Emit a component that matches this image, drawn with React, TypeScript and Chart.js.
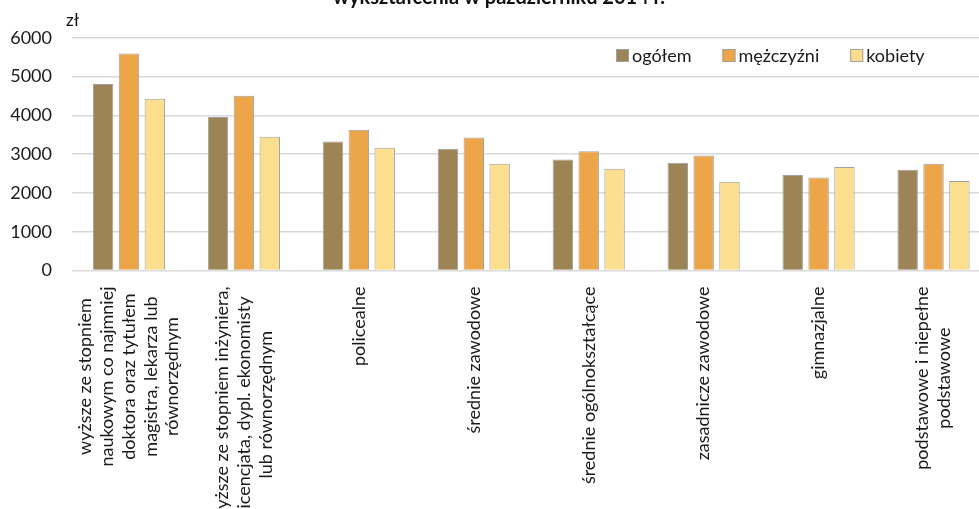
import React, { useEffect, useRef } from "react";
import { Chart, registerables } from "chart.js";

Chart.register(...registerables);

const FONT = "Lato, 'Noto Sans', sans-serif";

const categories: string[][] = [
  ["wyższe ze stopniem", "naukowym co najmniej", "doktora oraz tytułem", "magistra, lekarza lub", "równorzędnym"],
  ["wyższe ze stopniem inżyniera,", "licencjata, dypl. ekonomisty", "lub równorzędnym"],
  ["policealne"],
  ["średnie zawodowe"],
  ["średnie ogólnokształcące"],
  ["zasadnicze zawodowe"],
  ["gimnazjalne"],
  ["podstawowe i niepełne", "podstawowe"],
];

const seriesNames = ["ogółem", "mężczyźni", "kobiety"];
const ogolem = [4806, 3959, 3325, 3137, 2863, 2778, 2460, 2598];
const mezczyzni = [5592, 4506, 3625, 3427, 3076, 2965, 2400, 2752];
const kobiety = [4429, 3445, 3163, 2752, 2624, 2290, 2665, 2305];
const seriesColors = ["#9c8456", "#eca548", "#fcdf8e"];

const yMin = 0;
const yMax = 6000;
const yStep = 1000;

const titleText = "wykształcenia w październiku 2014 r.";
const unitLabel = "zł";

const overlayPlugin = {
  id: "overlay",
  afterDraw(chart: any) {
    const ctx = chart.ctx as CanvasRenderingContext2D;
    const area = chart.chartArea;
    const xs = chart.scales.x;
    ctx.save();

    // title (only the bottom line visible)
    ctx.font = `bold 20px ${FONT}`;
    ctx.fillStyle = "#111";
    ctx.textAlign = "center";
    ctx.textBaseline = "alphabetic";
    ctx.fillText(titleText, 499, 4);

    // unit
    ctx.font = `17px ${FONT}`;
    ctx.textAlign = "left";
    ctx.fillText(unitLabel, 66, 26);

    // x labels
    ctx.font = `18px ${FONT}`;
    ctx.fillStyle = "#1a1a1a";
    ctx.textAlign = "center";
    ctx.textBaseline = "middle";
    const lineH = 21.8;
    const top = area.bottom + 16;
    categories.forEach((lines, i) => {
      const px = xs.getPixelForValue(i);
      const w = Math.max(...lines.map((l) => ctx.measureText(l).width));
      const cy = top + w / 2;
      const n = lines.length;
      ctx.save();
      ctx.translate(px, cy);
      ctx.rotate(-Math.PI / 2);
      lines.forEach((l, j) => ctx.fillText(l, 0, (j - (n - 1) / 2) * lineH));
      ctx.restore();
    });

    // legend
    ctx.font = `18px ${FONT}`;
    ctx.textAlign = "left";
    ctx.textBaseline = "middle";
    let x = 616;
    const cyL = 55.5;
    const box = 13;
    chart.data.datasets.forEach((ds: any) => {
      ctx.fillStyle = ds.backgroundColor;
      ctx.fillRect(x, cyL - box / 2, box, box);
      ctx.strokeStyle = "#a0a0a0";
      ctx.lineWidth = 1;
      ctx.strokeRect(x + 0.5, cyL - box / 2 + 0.5, box - 1, box - 1);
      ctx.fillStyle = "#1a1a1a";
      const tx = x + box + 3;
      ctx.fillText(ds.label, tx, cyL + 1);
      x = tx + ctx.measureText(ds.label).width + 31;
    });

    ctx.restore();
  },
};

export default function App() {
  const ref = useRef<HTMLCanvasElement | null>(null);
  useEffect(() => {
    if (!ref.current) return;
    const series = [ogolem, mezczyzni, kobiety];
    const chart = new Chart(ref.current, {
      type: "bar",
      data: {
        labels: categories.map((c) => c.join(" ")),
        datasets: series.map((data, i) => ({
          label: seriesNames[i],
          data,
          backgroundColor: seriesColors[i],
          borderColor: "#a0a0a0",
          borderWidth: 1,
          categoryPercentage: 0.675,
          barPercentage: 0.79,
        })),
      },
      options: {
        responsive: false,
        animation: false,
        devicePixelRatio: 1,
        layout: { padding: { top: 37.7, right: 19, left: 0, bottom: 0 } },
        plugins: {
          legend: { display: false },
          tooltip: { enabled: false },
          title: { display: false },
        },
        scales: {
          x: {
            offset: true,
            grid: { display: false },
            border: { display: false },
            ticks: { display: false },
            afterFit: (s: any) => {
              s.height = 238.5;
            },
          },
          y: {
            min: yMin,
            max: yMax,
            ticks: {
              stepSize: yStep,
              font: { family: FONT, size: 18 },
              color: "#1a1a1a",
              padding: 19.5,
              callback: (v: any) => String(v),
            },
            grid: { color: "#d9d9d9", lineWidth: 1.5, drawTicks: false },
            border: { display: false },
            afterFit: (s: any) => {
              s.width = 71.5;
            },
          },
        },
      },
      plugins: [overlayPlugin],
    });
    return () => chart.destroy();
  }, []);
  return (
    <div
      style={{
        position: "absolute",
        left: 0,
        top: 0,
        width: 979,
        height: 509,
        overflow: "hidden",
        background: "#fff",
      }}
    >
      <canvas ref={ref} width={1010} height={509} style={{ display: "block" }} />
    </div>
  );
}
